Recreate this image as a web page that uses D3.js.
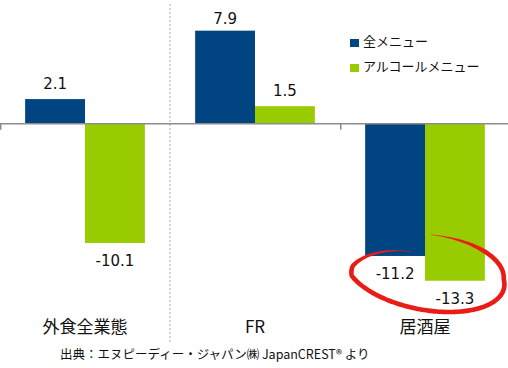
<!DOCTYPE html>
<html>
<head>
<meta charset="utf-8">
<script src="https://cdn.jsdelivr.net/npm/d3@7"></script>
<style>
  html, body { margin: 0; padding: 0; background: #fff; }
  svg { display: block; }
</style>
</head>
<body>
<svg id="chart"></svg>
<script>
var width = 508,
  height = 368;

var categories = ['外食全業態', 'FR', '居酒屋'];
var seriesNames = ['全メニュー', 'アルコールメニュー'];
var allMenu = [2.1, 7.9, -11.2];
var alcoholMenu = [-10.1, 1.5, -13.3];
var colors = ['#004481', '#99cc00'];
var sourceNote = '出典：エヌピーディー・ジャパン㈱ JapanCREST® より';

function draw() {
  var svg, x0, x1, y, groups, rows, legend, ring;

  svg = d3.select('#chart')
    .attr('width', width)
    .attr('height', height);

  rows = categories.map(function(c, i) {
    return {cat: c, values: [allMenu[i], alcoholMenu[i]]};
  });

  x0 = d3.scaleBand()
    .domain(categories)
    .range([0, 510])
    .padding(0);

  x1 = d3.scaleBand()
    .domain(seriesNames)
    .range([0, x0.bandwidth()])
    .paddingInner(0)
    .paddingOuter(0.42);

  y = d3.scaleLinear()
    .domain([-14, 10.5])
    .range([289, 0]);

  // dotted separator
  svg.append('line')
    .attr('x1', x0('FR')).attr('x2', x0('FR'))
    .attr('y1', 4).attr('y2', 342)
    .attr('stroke', '#d4d4d4')
    .attr('stroke-width', 2)
    .attr('stroke-dasharray', '2,2');

  // BARS
  groups = svg.selectAll('g.group')
    .data(rows)
    .enter()
    .append('g')
    .attr('class', 'group')
    .attr('transform', function(d) { return 'translate(' + x0(d.cat) + ',0)'; });

  groups.selectAll('rect')
    .data(function(d) { return d.values.map(function(v, i) { return {s: seriesNames[i], v: v, i: i}; }); })
    .enter()
    .append('rect')
    .attr('x', function(d) { return x1(d.s); })
    .attr('width', x1.bandwidth())
    .attr('y', function(d) { return y(Math.max(0, d.v)); })
    .attr('height', function(d) { return Math.abs(y(d.v) - y(0)); })
    .attr('fill', function(d) { return colors[d.i]; });

  groups.selectAll('text.val')
    .data(function(d) { return d.values.map(function(v, i) { return {s: seriesNames[i], v: v}; }); })
    .enter()
    .append('text')
    .attr('class', 'val')
    .attr('x', function(d) { return x1(d.s) + x1.bandwidth() / 2; })
    .attr('y', function(d) { return d.v >= 0 ? Math.max(24, y(d.v) - 10) : y(d.v) + 23; })
    .attr('text-anchor', 'middle')
    .style('font-family', 'DejaVu Sans')
    .style('font-size', '15px')
    .attr('fill', '#111')
    .text(function(d) { return d.v.toFixed(1); });

  // ZERO AXIS
  svg.append('line')
    .attr('x1', 0).attr('x2', width)
    .attr('y1', y(0)).attr('y2', y(0))
    .attr('stroke', '#8c8c8c')
    .attr('stroke-width', 1.5);

  svg.selectAll('line.tick')
    .data([0, x0('居酒屋')])
    .enter()
    .append('line')
    .attr('class', 'tick')
    .attr('x1', function(d) { return d + 0.75; })
    .attr('x2', function(d) { return d + 0.75; })
    .attr('y1', y(0)).attr('y2', y(0) + 6)
    .attr('stroke', '#8c8c8c')
    .attr('stroke-width', 1.5);

  // CATEGORY LABELS
  svg.selectAll('text.cat')
    .data(categories)
    .enter()
    .append('text')
    .attr('class', 'cat')
    .attr('x', function(d) { return x0(d) + x0.bandwidth() / 2; })
    .attr('y', 333)
    .attr('text-anchor', 'middle')
    .style('font-family', 'Noto Sans CJK JP')
    .style('font-size', '17px')
    .attr('fill', '#111')
    .text(function(d) { return d; });

  // LEGEND
  legend = svg.selectAll('g.legend')
    .data(seriesNames)
    .enter()
    .append('g')
    .attr('class', 'legend')
    .attr('transform', function(d, i) { return 'translate(350,' + (39 + i * 25) + ')'; });

  legend.append('rect')
    .attr('width', 9).attr('height', 8)
    .attr('fill', function(d, i) { return colors[i]; });

  legend.append('text')
    .attr('x', 13).attr('y', 7)
    .style('font-family', 'Noto Sans CJK JP')
    .style('font-size', '13px')
    .attr('fill', '#111')
    .text(function(d) { return d; });

  // SOURCE
  svg.append('text')
    .attr('x', 60).attr('y', 359)
    .style('font-family', 'Noto Sans CJK JP')
    .style('font-size', '12.5px')
    .attr('fill', '#111')
    .text(sourceNote);

  // RED HAND-DRAWN RING round the 居酒屋 values
  ring = ringPath(
    x0('居酒屋') + x0.bandwidth() / 2,
    (y(allMenu[2]) + y(alcoholMenu[2])) / 2 + 4,
    79, 38, 5);

  svg.append('path')
    .attr('d', ring)
    .attr('fill', '#ea1c16');
}

function ringPath(cx, cy, rx, ry, rotDeg) {
  var t0 = -88, t1 = 248, n = 220, pts = [], left = [], right = [],
      rot = rotDeg * Math.PI / 180, i, t, s, a, px, py, w;

  for (i = 0; i <= n; i++) {
    t = t0 + (t1 - t0) * i / n;
    s = t < 165 ? 1 : 1 - 0.45 * (t - 165) / (t1 - 165);
    a = t * Math.PI / 180;
    px = Math.cos(a) * rx * s;
    py = Math.sin(a) * ry * s;
    // hand-drawn lean: bottom drifts right
    px += Math.max(0, Math.sin(a)) * 14 * s;
    pts.push([cx + px * Math.cos(rot) - py * Math.sin(rot),
              cy + px * Math.sin(rot) + py * Math.cos(rot), t]);
  }

  for (i = 0; i < pts.length; i++) {
    var p = pts[Math.max(0, i - 1)], q = pts[Math.min(pts.length - 1, i + 1)],
        dx = q[0] - p[0], dy = q[1] - p[1], len = Math.sqrt(dx * dx + dy * dy) || 1;
    t = pts[i][2];
    w = 4.6 * Math.max(0.15, Math.min(1, (t - t0) / 45, (t1 - t) / 70));
    left.push([pts[i][0] - dy / len * w / 2, pts[i][1] + dx / len * w / 2]);
    right.push([pts[i][0] + dy / len * w / 2, pts[i][1] - dx / len * w / 2]);
  }

  return d3.line()(left.concat(right.reverse())) + 'Z';
}

draw();
</script>
</body>
</html>
